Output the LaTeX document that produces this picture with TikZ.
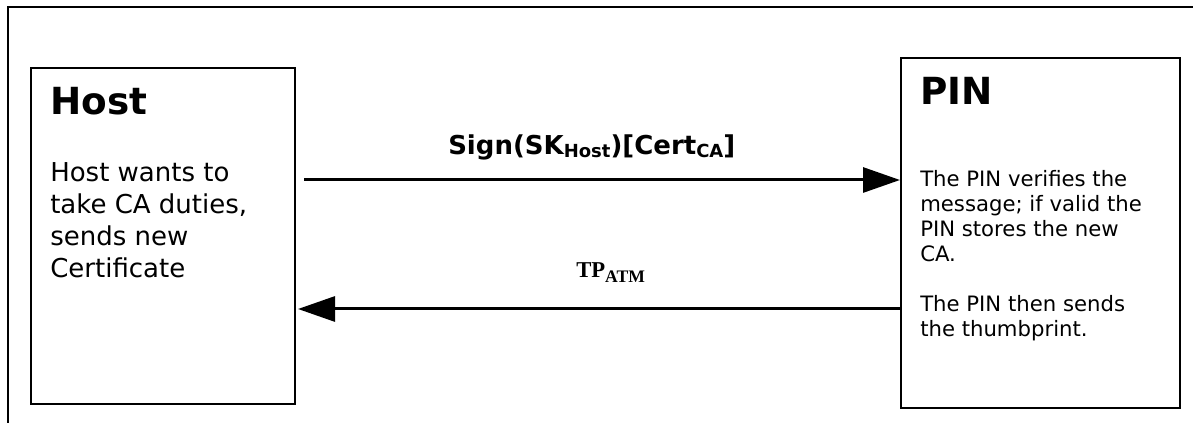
\documentclass[tikz,border=0pt]{standalone}
\usepackage{fontspec}
\setmainfont{DejaVu Sans}
\newfontfamily\serifbold{Liberation Serif}
\usetikzlibrary{arrows.meta}
\begin{document}
\begin{tikzpicture}[x=0.75pt,y=-0.75pt,
  frame/.style={line width=1.5pt},
  party/.style={draw, line width=1.5pt, anchor=north west, inner sep=0pt},
  msg/.style={line width=2.25pt, -{Triangle[length=27.75pt,width=18.75pt]}},
  txt/.style={inner sep=0pt, anchor=base west, align=left},
  heading/.style={txt, font=\bfseries\fontsize{28}{32}\selectfont},
  hostbody/.style={txt, font=\fontsize{19.5}{24}\selectfont},
  pinbody/.style={txt, font=\fontsize{15.9}{18.75}\selectfont},
  msglabel/.style={inner sep=0pt, anchor=base west}]
\useasboundingbox (0,0) rectangle (1193,423);

% open frame round the exchange
\draw[frame] (8,423) -- (8,7) -- (1193,7);

% the two parties
\node[party, minimum width=198pt, minimum height=252pt] (host) at (30,67) {};
\node[party, minimum width=209.25pt, minimum height=262.5pt] (pin) at (900,57) {};

\node[heading] (hosttitle) at (50,115) {Host};
% multi-line texts: the base anchor sits on the last line
\node[hostbody] (hosttext) at (50,278) {Host wants to\\take CA duties,\\sends new\\Certificate};

\node[heading] (pintitle) at (920,105) {PIN};
\node[pinbody] (pintext) at (920,337) {The PIN verifies the\\message; if valid the\\PIN stores the new\\CA.\\[18.75pt]The PIN then sends\\the thumbprint.};

% messages
\coordinate (req) at (304,180);
\coordinate (resp) at (298,309);
\draw[msg] (req) -- (req -| pin.west);
\draw[msg] (resp -| pin.west) -- (resp);

\node[msglabel] (reqlabel) at (448,155)
  {\bfseries\fontsize{19.5}{23}\selectfont Sign(SK\raisebox{-2.25pt}{\fontsize{13.5}{16}\selectfont Host})[Cert\raisebox{-2.25pt}{\fontsize{13.5}{16}\selectfont CA}]};
\node[msglabel] (resplabel) at (576,278)
  {\serifbold\bfseries\fontsize{17}{20}\selectfont TP\raisebox{-3.75pt}{\fontsize{13.2}{15}\selectfont ATM}};
\end{tikzpicture}
\end{document}
